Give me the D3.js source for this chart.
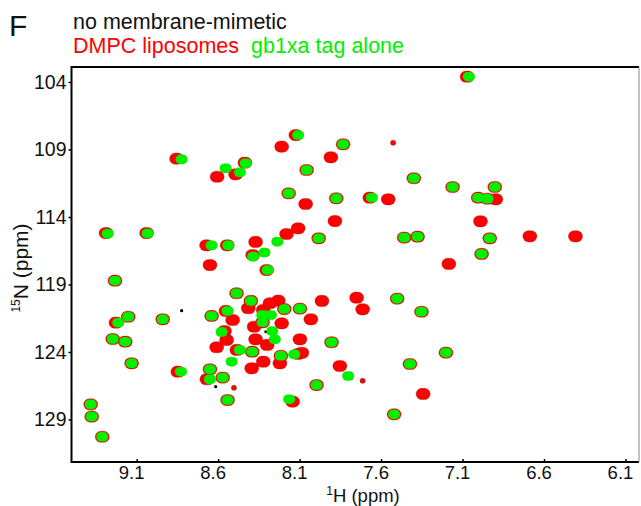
<!DOCTYPE html>
<html><head><meta charset="utf-8">
<script src="https://cdn.jsdelivr.net/npm/d3@7/dist/d3.min.js"></script>
<style>
html,body{margin:0;padding:0;background:#fff;}
svg{display:block;font-family:"Liberation Sans",Arial,Helvetica,sans-serif;}
</style></head>
<body><svg id="chart" width="641" height="506"></svg>
<script>
// ---- data (1H ppm, 15N ppm) ----
const xTicks = [9.1, 8.6, 8.1, 7.6, 7.1, 6.6, 6.1];
const yTicks = [104, 109, 114, 119, 124, 129];
const legendLabels = ["no membrane-mimetic", "DMPC liposomes", "gb1xa tag alone"];

// black: no membrane-mimetic (visible only where not covered)
const noMimeticPeaks = [[8.824,120.94],[8.615,126.57],[8.307,122.50]];

// red: DMPC liposomes
const dmpcPeaks = [
 [8.855,109.68],[8.606,111.02],[8.493,110.84],[8.436,109.98],[9.288,115.19],[9.039,115.19],
 [8.671,116.10],[8.544,116.10],[8.370,115.85],[8.388,116.82],[8.123,107.93],[8.210,108.79],
 [7.833,108.62],[7.908,109.58],[8.057,110.52],[7.399,111.13],[7.161,111.78],
 [8.167,112.25],[8.063,113.04],[7.875,112.62],[7.669,112.57],[7.556,112.69],[7.883,114.30],
 [8.109,114.84],[8.180,115.26],[7.983,115.58],[7.458,115.53],[7.376,115.46],[7.072,103.61],
 [6.902,111.78],[7.004,112.57],[6.947,112.65],[6.896,112.69],[6.990,114.32],[6.933,115.58],
 [6.687,115.43],[6.407,115.43],[6.983,116.74],[7.184,117.48],[8.650,117.56],[8.302,117.93],
 [9.233,118.72],[8.487,119.65],[8.399,120.22],[8.415,120.76],[8.323,120.89],[9.152,121.39],
 [9.227,121.83],[8.940,121.58],[8.640,121.33],[8.552,120.96],[8.511,121.63],[8.327,121.80],
 [8.379,122.13],[8.561,122.45],[8.548,123.11],[8.609,123.65],[8.370,123.06],[8.299,123.48],
 [9.247,123.04],[9.170,123.24],[8.485,123.85],[8.391,123.98],[8.394,125.21],[8.323,124.72],
 [9.131,124.84],[8.847,125.46],[8.650,125.28],[8.669,126.02],[8.572,125.90],
 [8.542,127.56],[9.382,127.88],[9.376,128.79],[9.311,130.28],[7.963,120.22],[7.750,119.98],
 [7.713,120.84],[7.501,120.05],[7.352,121.02],[8.231,120.20],[8.282,120.39],[8.194,120.82],
 [8.098,120.79],[8.031,121.58],[8.210,121.88],[8.098,123.06],[7.904,123.28],[8.215,124.28],
 [8.110,124.15],[8.086,124.06],[8.221,124.84],[7.202,124.05],[7.853,125.04],[7.423,124.89],
 [7.996,126.45],[8.143,127.68],[7.342,127.11],[7.520,128.62]
];
// small red peaks
const dmpcSmallPeaks = [[7.526,108.50],[8.503,126.65],[7.713,126.13]];

// green: gb1xa tag alone
const gb1xaPeaks = [
 [8.824,109.73],[8.554,110.39],[8.466,110.69],[8.431,110.02],[9.278,115.24],[9.033,115.22],
 [8.640,116.10],[8.538,116.10],[8.385,116.94],[8.316,116.63],[8.109,107.93],[7.833,108.62],
 [8.057,110.52],[7.399,111.13],[7.161,111.78],[8.167,112.25],[7.875,112.62],[7.656,112.57],
 [8.237,115.83],[7.983,115.58],[7.458,115.53],[7.376,115.46],[7.061,103.61],[6.902,111.78],
 [7.004,112.57],[6.947,112.65],[6.933,115.58],[6.983,116.74],[8.296,117.93],[9.233,118.72],
 [8.487,119.65],[8.399,120.22],[9.152,121.39],[9.213,121.83],[8.940,121.58],[8.640,121.33],
 [8.542,120.96],[8.329,121.26],[8.327,121.80],[8.579,122.52],[9.247,123.04],[9.170,123.24],
 [8.466,123.85],[8.391,123.98],[8.517,124.72],[9.131,124.84],[8.828,125.46],[8.650,125.28],
 [8.650,126.02],[8.572,125.90],[8.542,127.56],[9.382,127.88],[9.376,128.79],[9.311,130.28],
 [7.501,120.05],[7.352,121.02],[8.194,120.82],[8.098,120.79],[8.276,121.26],[8.268,122.45],
 [8.252,123.06],[7.904,123.28],[8.215,124.28],[8.133,124.17],[7.202,124.05],[7.423,124.89],
 [7.802,125.78],[7.996,126.45],[8.164,127.50],[7.520,128.62]
];

// ---- layout ----
const svg = d3.select("#chart");
const L = 71.5, R = 639, T = 67, B = 462;
const x = d3.scaleLinear().domain([9.5, 6.017]).range([L, R]);
const y = d3.scaleLinear().domain([102.89, 132.15]).range([T, B]);

svg.append("defs").append("clipPath").attr("id","plotclip")
  .append("rect").attr("x",L).attr("y",T).attr("width",R-L).attr("height",B-T);

const g = svg.append("g").attr("clip-path","url(#plotclip)");

g.selectAll("circle.blk").data(noMimeticPeaks).join("circle").attr("class","blk")
  .attr("cx",d=>x(d[0])).attr("cy",d=>y(d[1])).attr("r",1.6).attr("fill","#000");

g.selectAll("rect.red").data(dmpcPeaks).join("rect").attr("class","red")
  .attr("x",d=>x(d[0])-7).attr("y",d=>y(d[1])-5.6).attr("width",14).attr("height",11.2)
  .attr("rx",5.6).attr("ry",5.6)
  .attr("fill","#ff0000").attr("stroke","rgba(150,0,0,0.45)").attr("stroke-width",0.8);

g.selectAll("circle.reds").data(dmpcSmallPeaks).join("circle").attr("class","reds")
  .attr("cx",d=>x(d[0])).attr("cy",d=>y(d[1])).attr("r",2.6)
  .attr("fill","#ff0000").attr("stroke","rgba(100,0,0,0.6)").attr("stroke-width",0.6);

g.selectAll("rect.grn").data(gb1xaPeaks).join("rect").attr("class","grn")
  .attr("x",d=>x(d[0])-6).attr("y",d=>y(d[1])-4.8).attr("width",12).attr("height",9.6)
  .attr("rx",4.8).attr("ry",4.8).attr("fill","#00f000");

// ---- axes ----
const xAxis = svg.append("g").attr("transform",`translate(0,${B})`)
  .call(d3.axisBottom(x).tickValues(xTicks).tickSize(-3).tickSizeOuter(0).tickFormat(d3.format(".1f")));
xAxis.select(".domain").remove();
xAxis.selectAll(".tick line").attr("stroke","#000").attr("stroke-width",1.5);
xAxis.selectAll(".tick text").attr("font-size",18.5).attr("fill","#111").attr("dx",-5.5).attr("y",4);

const yAxis = svg.append("g").attr("transform",`translate(${L},0)`)
  .call(d3.axisLeft(y).tickValues(yTicks).tickSize(3).tickSizeOuter(0));
yAxis.select(".domain").remove();
yAxis.selectAll(".tick line").attr("stroke","#000").attr("stroke-width",1.5);
yAxis.selectAll(".tick text").attr("font-size",19.5).attr("fill","#111").attr("x",-5);

// frame
svg.append("line").attr("x1",L).attr("x2",R).attr("y1",T).attr("y2",T).attr("stroke","#000").attr("stroke-width",2);
svg.append("line").attr("x1",L).attr("x2",R).attr("y1",B).attr("y2",B).attr("stroke","#000").attr("stroke-width",2);
svg.append("line").attr("x1",L).attr("x2",L).attr("y1",T-1).attr("y2",B+1).attr("stroke","#000").attr("stroke-width",2);
svg.append("line").attr("x1",R).attr("x2",R).attr("y1",T).attr("y2",B).attr("stroke","#888").attr("stroke-width",1);

// axis titles
const xt = svg.append("text").attr("x",363).attr("y",502).attr("text-anchor","middle")
  .attr("font-size",18.5).attr("fill","#111");
xt.append("tspan").attr("font-size",12).attr("dy",-7).text("1");
xt.append("tspan").attr("dy",7).text("H (ppm)");

const yt = svg.append("text").attr("transform","translate(28,268) rotate(-90)")
  .attr("text-anchor","middle").attr("font-size",21).attr("fill","#111");
yt.append("tspan").attr("font-size",12).attr("dy",-8).text("15");
yt.append("tspan").attr("dy",8).text("N (ppm)");

// panel letter and legend
svg.append("text").attr("x",9).attr("y",36).attr("font-size",30).attr("fill","#111").text("F");
svg.append("text").attr("x",73).attr("y",29).attr("font-size",21.5).attr("fill","#111").text(legendLabels[0]);
svg.append("text").attr("x",73).attr("y",53).attr("font-size",21.5).attr("fill","#ff0000").text(legendLabels[1]);
svg.append("text").attr("x",251).attr("y",53).attr("font-size",21.5).attr("fill","#00f000").text(legendLabels[2]);
</script>
</body></html>
